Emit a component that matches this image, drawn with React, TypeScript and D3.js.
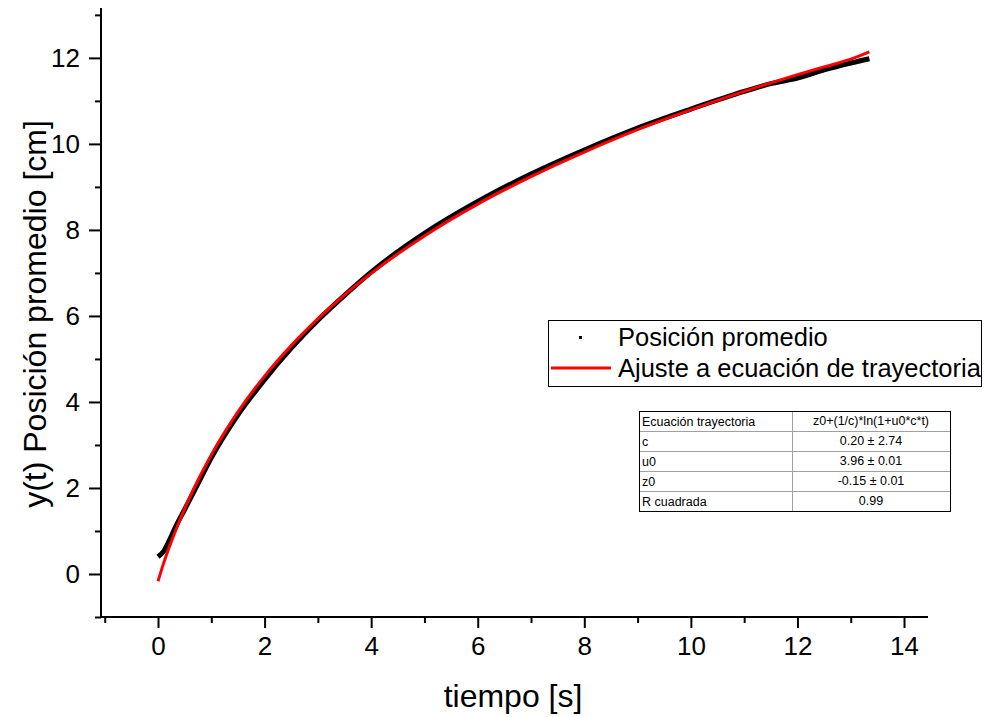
import React, { useEffect, useRef } from 'react';
import * as d3 from 'd3';

// chart size
const svgWidth = 984;
const svgHeight = 717;
const plotLeft = 101;
const plotRight = 928;
const plotTop = 8;
const plotBottom = 617;
const font = 'Liberation Sans, Arial, sans-serif';

// measured data (black) and fitted curve (red)
const tiempo = [0, 0.1, 0.2, 0.35, 0.5, 0.75, 1, 1.5, 2, 2.5, 3, 3.5, 4, 5, 6, 7, 8, 9, 10, 11, 11.5, 12, 12.5, 13, 13.35];
const posicion = [0.4, 0.52, 0.75, 1.15, 1.5, 2.1, 2.7, 3.7, 4.52, 5.25, 5.9, 6.48, 7.02, 7.92, 8.66, 9.3, 9.86, 10.37, 10.81, 11.22, 11.4, 11.53, 11.72, 11.88, 11.98];
const ajuste = [-0.17, 0.23, 0.585, 1.07, 1.52, 2.18, 2.77, 3.77, 4.6, 5.31, 5.93, 6.49, 6.99, 7.86, 8.6, 9.24, 9.81, 10.33, 10.79, 11.22, 11.42, 11.61, 11.79, 11.97, 12.14];

const xMajorTicks = [0, 2, 4, 6, 8, 10, 12, 14];
const xMinorTicks = [-1, 1, 3, 5, 7, 9, 11, 13];
const yMajorTicks = [0, 2, 4, 6, 8, 10, 12];
const yMinorTicks = [-1, 1, 3, 5, 7, 9, 11, 13];

const legendLabels = ['Posición promedio', 'Ajuste a ecuación de trayectoria'];

// fit results table
const tableNames = ['Ecuación trayectoria', 'c', 'u0', 'z0', 'R cuadrada'];
const tableValues = ['z0+(1/c)*ln(1+u0*c*t)', '0.20 ± 2.74', '3.96 ± 0.01', '-0.15 ± 0.01', '0.99'];

const xScale = d3.scaleLinear().domain([-1.07, 14.45]).range([plotLeft, plotRight]);
const yScale = d3.scaleLinear().domain([-1.0, 13.16]).range([plotBottom, plotTop]);

const App = () => {
  const xAxisRef = useRef<SVGGElement>(null);
  const yAxisRef = useRef<SVGGElement>(null);

  useEffect(() => {
    const gx = d3.select(xAxisRef.current);
    gx.selectAll('*').remove();
    gx.append('g').call(d3.axisBottom(xScale).tickValues(xMinorTicks).tickSize(6).tickSizeOuter(0).tickFormat(() => ''));
    gx.append('g').call(d3.axisBottom(xScale).tickValues(xMajorTicks).tickSize(11).tickSizeOuter(0).tickPadding(9).tickFormat(d3.format('d')));

    const gy = d3.select(yAxisRef.current);
    gy.selectAll('*').remove();
    gy.append('g').call(d3.axisLeft(yScale).tickValues(yMinorTicks).tickSize(6).tickSizeOuter(0).tickFormat(() => ''));
    gy.append('g').call(d3.axisLeft(yScale).tickValues(yMajorTicks).tickSize(12).tickSizeOuter(0).tickPadding(9).tickFormat(d3.format('d')));

    [gx, gy].forEach((g) => {
      g.selectAll('path, line').attr('stroke', '#000').attr('stroke-width', 2);
      g.selectAll('text').attr('font-family', font).attr('font-size', 26).attr('fill', '#000');
    });
    gx.selectAll('path.domain').attr('d', `M${plotLeft},0H${plotRight}`);
    gy.selectAll('path.domain').attr('d', `M0,${plotTop}V${plotBottom}`);
  }, []);

  const line = d3.line<number>()
    .x((d, i) => xScale(tiempo[i]))
    .y((d) => yScale(d))
    .curve(d3.curveMonotoneX);

  // table geometry
  const tLeft = 639;
  const tMid = 792;
  const tRight = 950;
  const tTop = 411;
  const rowH = 20;

  return (
    <svg width={svgWidth} height={svgHeight} style={{ position: 'absolute', left: 0, top: 0, background: '#fff' }}>
      <rect width={svgWidth} height={svgHeight} fill="#fff" />
      <path d={line(posicion) || ''} fill="none" stroke="#000" strokeWidth={5} />
      <path d={line(ajuste) || ''} fill="none" stroke="#ff0000" strokeWidth={3} />

      <g ref={xAxisRef} transform={`translate(0,${plotBottom})`} />
      <g ref={yAxisRef} transform={`translate(${plotLeft},0)`} />

      <text x={513} y={707} textAnchor="middle" fontFamily={font} fontSize={32}>tiempo [s]</text>
      <text transform="translate(46,314) rotate(-90)" textAnchor="middle" fontFamily={font} fontSize={32}>y(t) Posición promedio [cm]</text>

      {/* legend */}
      <rect x={548.5} y={320.5} width={433} height={66} fill="#fff" stroke="#000" strokeWidth={1} />
      <rect x={579} y={336} width={3} height={3} fill="#000" />
      <line x1={551} x2={611} y1={368} y2={368} stroke="#ff0000" strokeWidth={3} />
      {legendLabels.map((l, i) => (
        <text key={l} x={618} y={346 + i * 31} fontFamily={font} fontSize={25.5}>{l}</text>
      ))}

      {/* fit table */}
      <g>
        {tableNames.map((n, i) => (
          <g key={n}>
            {i > 0 && <line x1={tLeft} x2={tRight} y1={tTop + i * rowH + 0.5} y2={tTop + i * rowH + 0.5} stroke="#a0a0a0" />}
            <text x={tLeft + 3} y={tTop + i * rowH + 15} fontFamily={font} fontSize={12.5}>{n}</text>
            <text x={(tMid + tRight) / 2} y={tTop + i * rowH + 14} textAnchor="middle" fontFamily={font} fontSize={12.5}>{tableValues[i]}</text>
          </g>
        ))}
        <line x1={tMid + 0.5} x2={tMid + 0.5} y1={tTop} y2={tTop + rowH * tableNames.length} stroke="#a0a0a0" />
        <rect x={tLeft + 0.5} y={tTop + 0.5} width={tRight - tLeft} height={rowH * tableNames.length} fill="none" stroke="#000" />
      </g>
    </svg>
  );
};

export default App;
